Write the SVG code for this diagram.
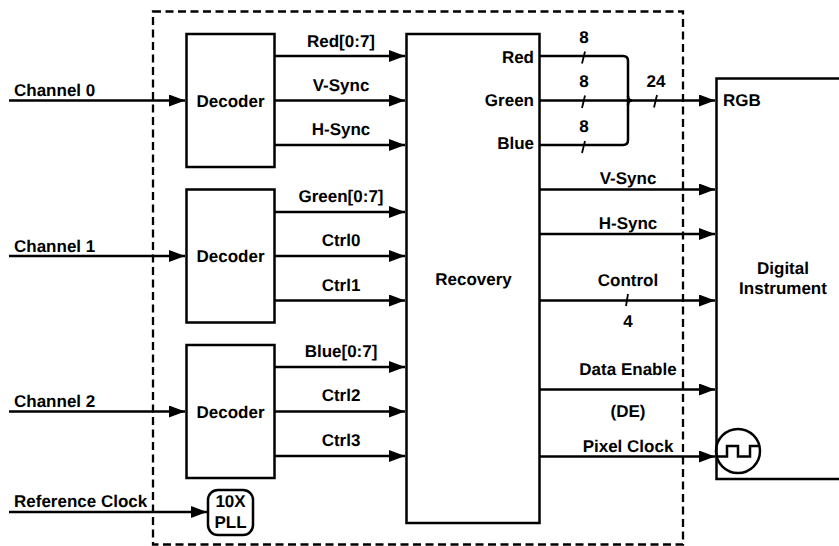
<svg xmlns="http://www.w3.org/2000/svg" width="839" height="546" viewBox="0 0 839 546">
<defs>
<marker id="arr" markerUnits="userSpaceOnUse" markerWidth="16" markerHeight="12" refX="16" refY="6" orient="auto"><path d="M0 0L16 6L0 12Z" fill="#000"/></marker>
</defs>
<style>
.b{fill:#fff;stroke:#000;stroke-width:2.500}
.l{fill:none;stroke:#000;stroke-width:2.500}
.w{fill:none;stroke:#000;stroke-width:2.500;marker-end:url(#arr)}
text{font-family:"Liberation Sans",Arial,sans-serif;font-weight:bold;font-size:17px;fill:#000;text-anchor:middle;text-rendering:geometricPrecision}
.s{text-anchor:start}
.e{text-anchor:end}
</style>
<rect width="839" height="546" fill="#fff"/>
<g id="boundary"><rect x="153" y="11.500" width="530" height="533" fill="none" stroke="#000" stroke-width="2.300" stroke-dasharray="8 4.500"/></g>
<g id="connectors">
<path class="w" d="M9 100.500H185"/>
<path class="w" d="M9 256H185"/>
<path class="w" d="M9 411.500H185"/>
<path class="w" d="M9 512H207"/>
<path class="w" d="M275 56H405"/>
<path class="w" d="M275 100.500H405"/>
<path class="w" d="M275 145H405"/>
<path class="w" d="M275 212H405"/>
<path class="w" d="M275 256H405"/>
<path class="w" d="M275 300.500H405"/>
<path class="w" d="M275 367H405"/>
<path class="w" d="M275 411.500H405"/>
<path class="w" d="M275 456H405"/>
<path class="l" d="M540 56H623Q628 56 628 61V140Q628 145 623 145H540"/>
<path class="l" d="M628 96Q628 100.500 632 100.500Q628 100.500 628 105"/>
<path class="w" d="M540 100.500H715"/>
<path class="w" d="M540 189.500H715"/>
<path class="w" d="M540 234H715"/>
<path class="w" d="M540 300.500H715"/>
<path class="w" d="M540 389.500H715"/>
<path class="w" d="M540 456.500H715"/>
<path fill="none" stroke="#000" stroke-width="1.800" d="M585 51.500L582 63.500M585 95.500L582 108M585 141L582 153M657 95L654 107.500M628 294L626 306"/>
</g>
<g id="decoder0"><rect class="b" x="186.500" y="34" width="88" height="133"/><text x="230.500" y="106.500">Decoder</text></g>
<g id="decoder1"><rect class="b" x="186.500" y="189.500" width="88" height="133"/><text x="230.500" y="262">Decoder</text></g>
<g id="decoder2"><rect class="b" x="186.500" y="345" width="88" height="133"/><text x="230.500" y="417.500">Decoder</text></g>
<g id="pll"><rect class="b" x="208" y="490" width="45" height="45" rx="10"/><text x="230.500" y="507">10X</text><text x="230.500" y="528">PLL</text></g>
<g id="recovery"><rect class="b" x="406.500" y="34" width="133" height="489"/><text x="473.500" y="284.500">Recovery</text><text class="e" x="534" y="63">Red</text><text class="e" x="534" y="106">Green</text><text class="e" x="534" y="149">Blue</text></g>
<g id="instrument"><path class="l" d="M839 78.500H716.500V479H839"/><text class="s" x="723" y="106">RGB</text><text x="783" y="274">Digital</text><text x="783" y="294">Instrument</text></g>
<g id="clock"><circle cx="738" cy="451" r="22" fill="none" stroke="#000" stroke-width="2.500"/><path class="l" d="M716.500 456.500H727V446H738V456.500H750V446H760"/></g>
<g id="labels">
<text class="s" x="14" y="96">Channel 0</text>
<text class="s" x="14" y="251.500">Channel 1</text>
<text class="s" x="14" y="407">Channel 2</text>
<text class="s" x="14" y="507">Reference Clock</text>
<text x="341" y="46.500">Red[0:7]</text>
<text x="341" y="91">V-Sync</text>
<text x="341" y="135">H-Sync</text>
<text x="341" y="202">Green[0:7]</text>
<text x="341" y="246">Ctrl0</text>
<text x="341" y="291">Ctrl1</text>
<text x="341" y="357">Blue[0:7]</text>
<text x="341" y="401">Ctrl2</text>
<text x="341" y="446">Ctrl3</text>
<text x="584" y="43">8</text>
<text x="584" y="87">8</text>
<text x="584" y="132">8</text>
<text x="656" y="87">24</text>
<text x="628" y="184">V-Sync</text>
<text x="628" y="229">H-Sync</text>
<text x="628" y="286">Control</text>
<text x="628" y="327">4</text>
<text x="628" y="375">Data Enable</text>
<text x="628" y="417">(DE)</text>
<text x="628" y="452">Pixel Clock</text>
</g>
</svg>
